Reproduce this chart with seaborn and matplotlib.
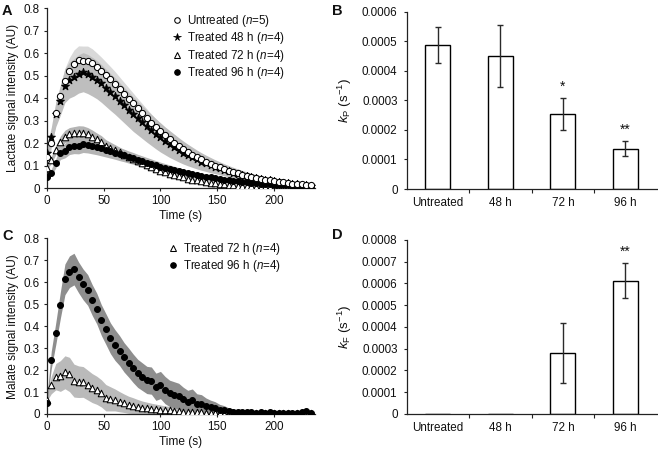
import numpy as np
import pandas as pd
import matplotlib
matplotlib.use("Agg")
import matplotlib.pyplot as plt
from matplotlib.lines import Line2D
from matplotlib.ticker import FuncFormatter, FixedLocator
import seaborn as sns

# ---------------- data ----------------
time_s = [0, 4, 8, 12, 16, 20, 24, 28, 32, 36, 40, 44, 48, 52, 56, 60, 64, 68, 72, 76,
          80, 84, 88, 92, 96, 100, 104, 108, 112, 116, 120, 124, 128, 132, 136, 140, 144, 148, 152, 156,
          160, 164, 168, 172, 176, 180, 184, 188, 192, 196, 200, 204, 208, 212, 216, 220, 224, 228, 232]

# Panel A: lactate
lac_untreated = [0.14, 0.203, 0.333, 0.41, 0.478, 0.521, 0.553, 0.568, 0.566, 0.566, 0.556, 0.54, 0.523, 0.504, 0.485, 0.465, 0.443, 0.421, 0.399, 0.377,
                 0.355, 0.334, 0.313, 0.292, 0.272, 0.253, 0.235, 0.218, 0.203, 0.188, 0.174, 0.161, 0.149, 0.138, 0.128, 0.118, 0.109, 0.101, 0.093, 0.086,
                 0.079, 0.072, 0.066, 0.061, 0.055, 0.051, 0.046, 0.042, 0.038, 0.035, 0.032, 0.028, 0.026, 0.023, 0.021, 0.019, 0.017, 0.015, 0.013]
lac_untreated_sd = [0.02, 0.03, 0.045, 0.05, 0.055, 0.06, 0.062, 0.065, 0.066, 0.066, 0.064, 0.062, 0.06, 0.058, 0.056, 0.054, 0.052, 0.05, 0.048, 0.046,
                    0.044, 0.042, 0.04, 0.038, 0.036, 0.034, 0.032, 0.03, 0.029, 0.028, 0.026, 0.025, 0.024, 0.022, 0.021, 0.02, 0.019, 0.018, 0.017, 0.016,
                    0.015, 0.014, 0.013, 0.012, 0.012, 0.011, 0.01, 0.01, 0.009, 0.009, 0.008, 0.008, 0.007, 0.007, 0.007, 0.006, 0.006, 0.006, 0.005]
lac_48h = [0.156, 0.23, 0.329, 0.39, 0.456, 0.481, 0.493, 0.508, 0.516, 0.508, 0.496, 0.483, 0.466, 0.447, 0.428, 0.41, 0.39, 0.37, 0.35, 0.33,
           0.312, 0.294, 0.276, 0.259, 0.242, 0.226, 0.211, 0.197, 0.184, 0.171, 0.159, 0.148, 0.138, 0.128, 0.119, 0.111, 0.103, 0.096, 0.089, 0.082,
           0.076, 0.07, 0.065, 0.06, 0.055, 0.05, 0.046, 0.042, 0.038, 0.035, 0.031, 0.028, 0.025, 0.023, 0.02, 0.018, 0.016, 0.014, 0.012]
lac_48h_sd = [0.03, 0.04, 0.055, 0.065, 0.075, 0.08, 0.083, 0.085, 0.087, 0.087, 0.086, 0.085, 0.084, 0.083, 0.082, 0.081, 0.08, 0.079, 0.078, 0.077,
              0.075, 0.073, 0.071, 0.069, 0.067, 0.065, 0.062, 0.06, 0.057, 0.054, 0.051, 0.048, 0.045, 0.042, 0.039, 0.036, 0.034, 0.031, 0.029, 0.027,
              0.025, 0.023, 0.021, 0.019, 0.018, 0.016, 0.015, 0.014, 0.013, 0.012, 0.011, 0.01, 0.009, 0.009, 0.008, 0.008, 0.007, 0.007, 0.006]
lac_72h = [0.089, 0.126, 0.17, 0.207, 0.23, 0.24, 0.244, 0.247, 0.247, 0.24, 0.23, 0.218, 0.207, 0.19, 0.18, 0.17, 0.16, 0.15, 0.14, 0.13,
           0.12, 0.111, 0.102, 0.094, 0.086, 0.078, 0.072, 0.065, 0.059, 0.053, 0.048, 0.043, 0.039, 0.035, 0.031, 0.028, 0.025, 0.022, 0.02, 0.017,
           0.015, 0.013, 0.011, 0.01, 0.009, 0.008, 0.007, 0.007, 0.006, 0.006, 0.005, 0.005, 0.005, 0.005, 0.004, 0.004, 0.004, 0.004, 0.004]
lac_72h_sd = [0.01, 0.015, 0.02, 0.025, 0.028, 0.03, 0.03, 0.031, 0.03, 0.03, 0.029, 0.028, 0.027, 0.026, 0.025, 0.024, 0.023, 0.022, 0.021, 0.02,
              0.019, 0.018, 0.017, 0.016, 0.015, 0.014, 0.013, 0.012, 0.011, 0.01, 0.01, 0.009, 0.009, 0.008, 0.008, 0.007, 0.007, 0.006, 0.006, 0.005,
              0.005, 0.005, 0.005, 0.005, 0.005, 0.005, 0.005, 0.004, 0.004, 0.004, 0.004, 0.004, 0.004, 0.004, 0.004, 0.004, 0.004, 0.004, 0.004]
lac_96h = [0.052, 0.07, 0.111, 0.156, 0.167, 0.185, 0.19, 0.19, 0.196, 0.193, 0.188, 0.183, 0.177, 0.171, 0.165, 0.159, 0.152, 0.146, 0.139, 0.133,
           0.126, 0.12, 0.114, 0.108, 0.102, 0.096, 0.091, 0.086, 0.081, 0.076, 0.071, 0.067, 0.063, 0.059, 0.055, 0.051, 0.048, 0.045, 0.042, 0.039,
           0.036, 0.034, 0.031, 0.029, 0.027, 0.025, 0.023, 0.021, 0.019, 0.018, 0.016, 0.015, 0.014, 0.013, 0.012, 0.011, 0.01, 0.009, 0.008]
lac_96h_sd = [0.01, 0.015, 0.02, 0.028, 0.032, 0.035, 0.036, 0.037, 0.037, 0.036, 0.035, 0.034, 0.033, 0.032, 0.031, 0.03, 0.029, 0.028, 0.027, 0.026,
              0.025, 0.024, 0.023, 0.022, 0.021, 0.02, 0.019, 0.018, 0.017, 0.016, 0.015, 0.014, 0.013, 0.013, 0.012, 0.012, 0.011, 0.011, 0.01, 0.01,
              0.009, 0.009, 0.009, 0.008, 0.008, 0.008, 0.008, 0.007, 0.007, 0.007, 0.007, 0.006, 0.006, 0.006, 0.006, 0.006, 0.005, 0.005, 0.005]

# Panel C: malate
mal_72h = [0.063, 0.132, 0.17, 0.173, 0.19, 0.18, 0.152, 0.147, 0.146, 0.132, 0.118, 0.108, 0.094, 0.074, 0.069, 0.064, 0.056, 0.049, 0.042, 0.038,
           0.033, 0.029, 0.026, 0.023, 0.021, 0.019, 0.017, 0.016, 0.014, 0.012, 0.011, 0.01, 0.009, 0.008, 0.007, 0.006, 0.005, 0.005, 0.004, 0.002,
           0.004, 0.004, 0.005, 0.004, 0.003, 0.004, 0.005, 0.004, 0.003, 0.004, 0.004, 0.005, 0.004, 0.003, 0.002, 0.004, 0.003, 0.005, 0.004]
mal_72h_sd = [0.005, 0.04, 0.06, 0.07, 0.075, 0.078, 0.075, 0.072, 0.07, 0.068, 0.066, 0.064, 0.062, 0.06, 0.055, 0.05, 0.046, 0.042, 0.039, 0.036,
              0.033, 0.03, 0.028, 0.026, 0.024, 0.022, 0.02, 0.019, 0.017, 0.016, 0.015, 0.014, 0.013, 0.012, 0.011, 0.01, 0.009, 0.008, 0.007, 0.006,
              0.006, 0.006, 0.005, 0.005, 0.005, 0.005, 0.005, 0.005, 0.005, 0.005, 0.004, 0.004, 0.004, 0.004, 0.004, 0.004, 0.004, 0.004, 0.004]
mal_96h = [0.05, 0.246, 0.367, 0.496, 0.613, 0.648, 0.66, 0.622, 0.59, 0.565, 0.519, 0.48, 0.428, 0.387, 0.345, 0.314, 0.289, 0.258, 0.234, 0.208,
           0.185, 0.17, 0.155, 0.152, 0.124, 0.132, 0.109, 0.094, 0.087, 0.082, 0.067, 0.056, 0.064, 0.046, 0.046, 0.035, 0.03, 0.028, 0.02, 0.018,
           0.012, 0.01, 0.008, 0.01, 0.008, 0.008, 0.006, 0.007, 0.006, 0.007, 0.006, 0.005, 0.006, 0.004, 0.003, 0.006, 0.01, 0.012, 0.006]
mal_96h_sd = [0.01, 0.04, 0.05, 0.06, 0.07, 0.072, 0.072, 0.07, 0.07, 0.07, 0.07, 0.07, 0.07, 0.07, 0.07, 0.07, 0.068, 0.067, 0.066, 0.065,
              0.064, 0.063, 0.062, 0.062, 0.062, 0.062, 0.062, 0.06, 0.06, 0.058, 0.055, 0.052, 0.05, 0.046, 0.042, 0.038, 0.033, 0.028, 0.024, 0.02,
              0.016, 0.014, 0.012, 0.011, 0.01, 0.01, 0.009, 0.009, 0.009, 0.008, 0.008, 0.008, 0.008, 0.008, 0.008, 0.008, 0.008, 0.008, 0.008]

# Panels B and D: rate constants
groups = ["Untreated", "48 h", "72 h", "96 h"]
kP = [0.000487, 0.000450, 0.000253, 0.000137]
kP_err = [0.000061, 0.000104, 0.000055, 0.000024]
kP_sig = ["", "", "*", "**"]
kF = [0.0, 0.0, 0.000280, 0.000613]
kF_err = [0.0, 0.0, 0.000139, 0.000080]
kF_sig = ["", "", "", "**"]

labels_A = ["Untreated ($\\it{n}$=5)", "Treated 48 h ($\\it{n}$=4)",
            "Treated 72 h ($\\it{n}$=4)", "Treated 96 h ($\\it{n}$=4)"]
labels_C = ["Treated 72 h ($\\it{n}$=4)", "Treated 96 h ($\\it{n}$=4)"]

for arr in [lac_untreated, lac_untreated_sd, lac_48h, lac_48h_sd, lac_72h, lac_72h_sd, lac_96h, lac_96h_sd,
            mal_72h, mal_72h_sd, mal_96h, mal_96h_sd]:
    assert len(arr) == len(time_s), len(arr)

# ---------------- style ----------------
sns.set_theme(style="ticks")
plt.rcParams["font.family"] = ["Liberation Sans", "DejaVu Sans"]
plt.rcParams["mathtext.fontset"] = "custom"
plt.rcParams["mathtext.rm"] = "Liberation Sans"
plt.rcParams["mathtext.it"] = "Liberation Sans:italic"
plt.rcParams["mathtext.bf"] = "Liberation Sans:bold"
FS = 8.4
LFS = 8.6
SPINE = "#222222"
TXT = "#111111"
plt.rcParams["text.color"] = TXT
plt.rcParams["axes.labelcolor"] = TXT
plt.rcParams["xtick.labelcolor"] = TXT
plt.rcParams["ytick.labelcolor"] = TXT

fig = plt.figure(figsize=(6.58, 4.5), dpi=100)
axA = fig.add_axes([0.071, 0.5816, 0.408, 0.40])
axB = fig.add_axes([0.618, 0.580, 0.380, 0.394])
axC = fig.add_axes([0.071, 0.080, 0.408, 0.3904])
axD = fig.add_axes([0.618, 0.080, 0.380, 0.3867])


def fmt_num(v, pos, nd):
    if abs(v) < 1e-12:
        return "0"
    return f"{v:.{nd}f}"


def style_axes(ax):
    sns.despine(ax=ax)
    for s in ["left", "bottom"]:
        ax.spines[s].set_color(SPINE)
        ax.spines[s].set_linewidth(0.9)
    ax.tick_params(axis="both", labelsize=FS, length=2.5, width=0.8, color=SPINE, pad=2.5)


t = np.array(time_s)


def band(ax, mean, sd, color, z):
    m = np.array(mean)
    s = np.array(sd)
    ax.fill_between(t, m - s, m + s, color=color, lw=0, zorder=z)


def points(ax, y, marker, face, size, z):
    sns.scatterplot(x=t, y=np.array(y), marker=marker, s=size, color=face,
                    edgecolor="black", linewidth=0.75, ax=ax, zorder=z, legend=False)


# ---- Panel A ----
band(axA, lac_untreated, lac_untreated_sd, "#d9d9d9", 1)
band(axA, lac_48h, lac_48h_sd, "#bebebe", 2)
band(axA, lac_72h, lac_72h_sd, "#b4b4b4", 3)
band(axA, lac_96h, lac_96h_sd, "#b4b4b4", 3)
points(axA, lac_72h, "^", "white", 22, 5)
points(axA, lac_96h, "o", "black", 18, 6)
points(axA, lac_48h, "*", "black", 34, 7)
points(axA, lac_untreated, "o", "white", 20, 8)

axA.set_xlim(0, 236)
axA.set_ylim(0, 0.8)
axA.set_xticks([0, 50, 100, 150, 200])
axA.set_yticks([0, 0.1, 0.2, 0.3, 0.4, 0.5, 0.6, 0.7, 0.8])
axA.yaxis.set_major_formatter(FuncFormatter(lambda v, p: fmt_num(v, p, 1)))
axA.set_xlabel("Time (s)", fontsize=LFS, labelpad=2)
axA.set_ylabel("Lactate signal intensity (AU)", fontsize=LFS, labelpad=3)
style_axes(axA)

hA = [Line2D([], [], marker="o", ls="none", mfc="white", mec="black", ms=4, mew=0.75),
      Line2D([], [], marker="*", ls="none", mfc="black", mec="black", ms=5.5, mew=0.5),
      Line2D([], [], marker="^", ls="none", mfc="white", mec="black", ms=4.3, mew=0.75),
      Line2D([], [], marker="o", ls="none", mfc="black", mec="black", ms=4, mew=0.75)]
axA.legend(hA, labels_A, loc="upper left", bbox_to_anchor=(0.449, 1.0), frameon=False,
           fontsize=FS, handlelength=0.8, handletextpad=0.5, labelspacing=0.12, borderaxespad=0)

# ---- Panel C ----
band(axC, mal_72h, mal_72h_sd, "#bababa", 1)
band(axC, mal_96h, mal_96h_sd, "#8e8e8e", 2)
points(axC, mal_72h, "^", "white", 22, 5)
points(axC, mal_96h, "o", "black", 18, 6)
axC.set_xlim(0, 236)
axC.set_ylim(0, 0.8)
axC.set_xticks([0, 50, 100, 150, 200])
axC.set_yticks([0, 0.1, 0.2, 0.3, 0.4, 0.5, 0.6, 0.7, 0.8])
axC.yaxis.set_major_formatter(FuncFormatter(lambda v, p: fmt_num(v, p, 1)))
axC.set_xlabel("Time (s)", fontsize=LFS, labelpad=2)
axC.set_ylabel("Malate signal intensity (AU)", fontsize=LFS, labelpad=3)
style_axes(axC)
hC = [Line2D([], [], marker="^", ls="none", mfc="white", mec="black", ms=4.3, mew=0.75),
      Line2D([], [], marker="o", ls="none", mfc="black", mec="black", ms=4, mew=0.75)]
axC.legend(hC, labels_C, loc="upper left", bbox_to_anchor=(0.434, 1.01), frameon=False,
           fontsize=FS, handlelength=0.8, handletextpad=0.5, labelspacing=0.08, borderaxespad=0)


# ---- Bar panels ----
def bar_panel(ax, vals, errs, sigs, ymax, step, ylabel):
    df = pd.DataFrame({"group": groups, "value": vals})
    sns.barplot(data=df, x="group", y="value", color="white", edgecolor="black",
                linewidth=1.0, width=0.4, ax=ax, saturation=1, errorbar=None)
    xs = [i for i, e in enumerate(errs) if e > 0]
    ax.errorbar(xs, [vals[i] for i in xs], yerr=[errs[i] for i in xs], fmt="none",
                ecolor="#2a2a2a", elinewidth=1.0, capsize=2.5, capthick=1.0, zorder=5)
    for i, s in enumerate(sigs):
        if s:
            ax.text(i, vals[i] + errs[i] + ymax * 0.025, s, ha="center", va="bottom", fontsize=FS + 1.5)
    ax.set_xlim(-0.5, 3.5)
    ax.set_ylim(0, ymax)
    ax.set_yticks(np.arange(0, ymax + step / 2, step))
    ax.yaxis.set_major_formatter(FuncFormatter(lambda v, p: fmt_num(v, p, 4)))
    ax.set_xlabel("")
    ax.set_ylabel(ylabel, fontsize=LFS + 1, labelpad=6)
    style_axes(ax)
    ax.tick_params(axis="y", pad=4)
    ax.tick_params(axis="x", which="major", length=0, pad=6)
    ax.xaxis.set_minor_locator(FixedLocator([0.5, 1.5, 2.5]))
    ax.tick_params(axis="x", which="minor", length=3, width=0.8, color=SPINE)


bar_panel(axB, kP, kP_err, kP_sig, 0.0006, 0.0001, r"$k_{\mathrm{P}}$ (s$^{-1}$)")
bar_panel(axD, kF, kF_err, kF_sig, 0.0008, 0.0001, r"$k_{\mathrm{F}}$ (s$^{-1}$)")

# panel letters
for lab, x, y in [("A", 0.003, 0.992), ("B", 0.505, 0.992), ("C", 0.003, 0.49), ("D", 0.505, 0.493)]:
    fig.text(x, y, lab, fontsize=10.5, fontweight="bold", va="top", ha="left")

fig.savefig("out.png", dpi=100)
